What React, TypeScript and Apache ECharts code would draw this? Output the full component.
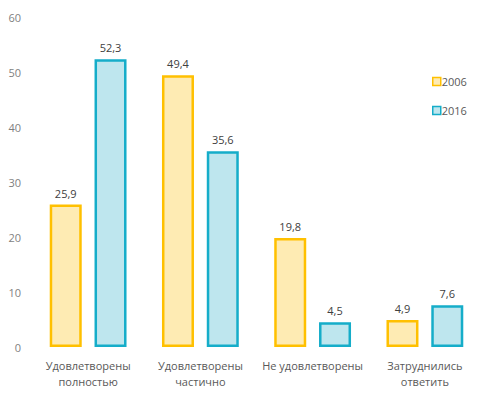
import React, { useEffect, useRef } from "react";
import * as echarts from "echarts";

const categories = ["Удовлетворены\nполностью", "Удовлетворены\nчастично", "Не удовлетворены", "Затруднились\nответить"];
const values2006 = [25.9, 49.4, 19.8, 4.9];
const values2016 = [52.3, 35.6, 4.5, 7.6];
const seriesNames = ["2006", "2016"];

const FONT = "Open Sans";

export default function App() {
  const ref = useRef<HTMLDivElement>(null);
  useEffect(() => {
    if (!ref.current) return;
    const chart = echarts.init(ref.current, null, { renderer: "svg" });
    const label = {
      show: true,
      position: "top" as const,
      distance: 6,
      color: "#404040",
      fontSize: 11,
      fontFamily: FONT,
      formatter: (p: any) => String(p.value).replace(".", ","),
    };
    chart.setOption({
      animation: false,
      backgroundColor: "#ffffff",
      grid: { left: 32, right: 15, top: 17, bottom: 47 },
      legend: {
        orient: "vertical",
        left: 427,
        top: 71,
        itemWidth: 8,
        itemHeight: 8,
        itemGap: 18,
        icon: "rect",
        textStyle: { color: "#595959", fontSize: 11, fontFamily: FONT, padding: [0, 0, 0, -4] },
        itemStyle: { borderWidth: 1.5 },
        data: seriesNames,
      },
      xAxis: {
        type: "category",
        data: categories,
        axisLine: { show: false },
        axisTick: { show: false },
        axisLabel: { color: "#595959", fontSize: 11, fontFamily: FONT, lineHeight: 16, margin: 10, interval: 0 },
      },
      yAxis: {
        type: "value",
        min: 0,
        max: 60,
        interval: 10,
        splitLine: { show: false },
        axisLine: { show: false },
        axisTick: { show: false },
        axisLabel: { color: "#7f7f7f", fontSize: 11, fontFamily: FONT, margin: 11 },
      },
      series: [
        {
          name: seriesNames[0],
          type: "bar",
          data: values2006,
          barWidth: 32,
          barGap: "40%",
          itemStyle: { color: "#FEEBB3", borderColor: "#FFC000", borderWidth: 2.5 },
          label,
        },
        {
          name: seriesNames[1],
          type: "bar",
          data: values2016,
          barWidth: 32,
          itemStyle: { color: "#BEE6EE", borderColor: "#15ADC9", borderWidth: 2.5 },
          label,
        },
      ],
    });
    return () => chart.dispose();
  }, []);
  return <div ref={ref} style={{ width: 496, height: 394, position: "absolute", left: 0, top: 0 }} />;
}
